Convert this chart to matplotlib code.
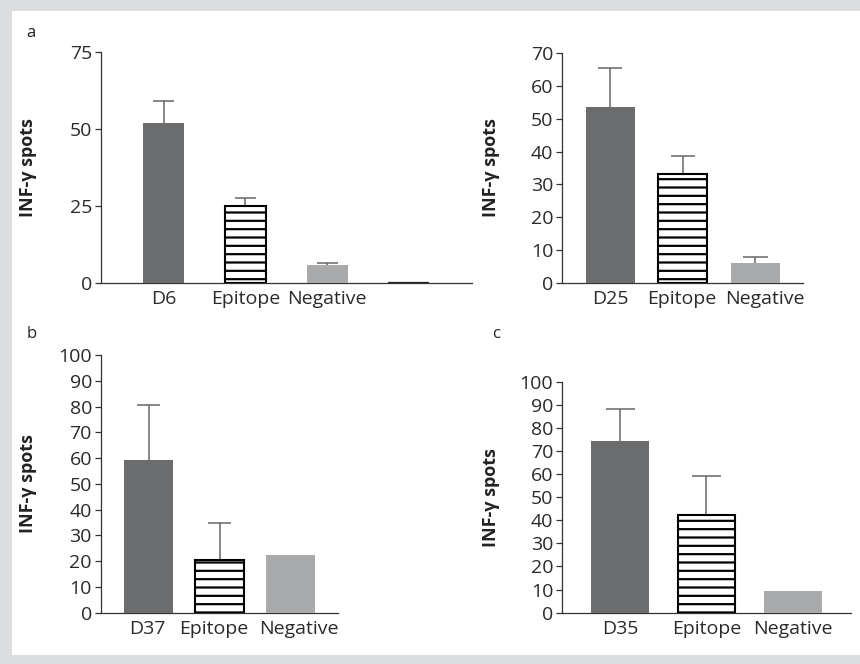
import matplotlib.pyplot as plt
import matplotlib.transforms as mtransforms
from matplotlib.patches import Rectangle

# panel a (top left)
a_labels = ["D6", "Epitope", "Negative", ""]
a_values = [52, 25, 5.8, 0]
a_errors = [7, 2.7, 0.5, 0]
a_ticks = [0, 25, 50, 75]

# panel a (top right)
a2_labels = ["D25", "Epitope", "Negative"]
a2_values = [53.6, 33.1, 6.1]
a2_errors = [12, 5.6, 1.8]
a2_ticks = [0, 10, 20, 30, 40, 50, 60, 70]

# panel b
b_labels = ["D37", "Epitope", "Negative"]
b_values = [59.4, 20.6, 22.4]
b_errors = [21.2, 14.3, 0]
b_ticks = list(range(0, 101, 10))

# panel c
c_labels = ["D35", "Epitope", "Negative"]
c_values = [74.2, 42.2, 9.4]
c_errors = [13.8, 16.8, 0]
c_ticks = list(range(0, 101, 10))

DARK = "#6b6c6e"
LIGHT = "#a9aaac"
AXIS = "#333333"

plt.rcParams["font.family"] = ["Open Sans", "DejaVu Sans"]
plt.rcParams["hatch.linewidth"] = 1.6

fig = plt.figure(figsize=(8.6, 6.64), dpi=100)
fig.patch.set_facecolor("#dcdddf")
fig.patches.append(Rectangle((12 / 860, 1 - 655 / 664), 1, 644 / 664,
                             transform=fig.transFigure, facecolor="white",
                             edgecolor="none", zorder=-10))


def panel(rect, labels, values, errors, ticks, width, xlim, cap, label_x,
          shifts=None):
    ax = fig.add_axes(rect)
    ax.set_facecolor("none")
    x = list(range(len(values)))
    colors = [DARK, "white", LIGHT, "#222222"][:len(values)]
    bars = ax.bar(x, values, width=width, color=colors, zorder=3)
    for i, b in enumerate(bars):
        if i == 1:
            b.set_edgecolor("black")
            b.set_linewidth(1.5)
            b.set_hatch("--")
        elif i == 3:
            b.set_edgecolor("#222222")
            b.set_linewidth(1.6)
        else:
            b.set_edgecolor("none")
    # upper-only error bars
    for xi, v, e in zip(x, values, errors):
        if e > 0:
            ax.vlines(xi, v, v + e, color="#666666", lw=1.1, zorder=2)
            ax.hlines(v + e, xi - cap, xi + cap, color="#666666", lw=1.1, zorder=2)
    ax.set_xlim(*xlim)
    ax.set_ylim(0, ticks[-1])
    ax.set_yticks(ticks)
    ax.set_xticks(x)
    ax.set_xticklabels(labels)
    for s in ["top", "right"]:
        ax.spines[s].set_visible(False)
    for s in ["left", "bottom"]:
        ax.spines[s].set_color(AXIS)
        ax.spines[s].set_linewidth(0.9)
    ax.tick_params(axis="y", length=4.5, width=0.9, color=AXIS,
                   labelsize=14, labelcolor="#2a2a2a", pad=2)
    ax.tick_params(axis="x", length=0, labelsize=14, labelcolor="#2a2a2a", pad=5)
    if shifts:
        for lab, dx in zip(ax.get_xticklabels(), shifts):
            off = mtransforms.ScaledTranslation(dx / 72, 0, fig.dpi_scale_trans)
            lab.set_transform(lab.get_transform() + off)
    ax.set_ylabel("INF-γ spots", fontsize=13, fontweight="bold", color="#222222")
    ax.yaxis.set_label_coords(label_x, 0.5)
    return ax


panel([0.1174, 0.5742, 0.431, 0.347], a_labels, a_values, a_errors, a_ticks,
      0.5, (-0.77, 3.77), 0.13, -0.173)
panel([0.6538, 0.5742, 0.2802, 0.3455], a2_labels, a2_values, a2_errors, a2_ticks,
      0.676, (-0.66, 2.66), 0.168, -0.2585, shifts=[0, -1, 7])
panel([0.1174, 0.0773, 0.2759, 0.3881], b_labels, b_values, b_errors, b_ticks,
      0.68, (-0.67, 2.67), 0.165, -0.2676, shifts=[-1, -4, 6])
panel([0.6538, 0.0773, 0.3353, 0.3479], c_labels, c_values, c_errors, c_ticks,
      0.67, (-0.67, 2.67), 0.168, -0.216)

fig.text(0.030, 0.944, "a", fontsize=12, color="#222222")
fig.text(0.0314, 0.491, "b", fontsize=12, color="#222222")
fig.text(0.572, 0.491, "c", fontsize=12, color="#222222")

fig.savefig("out.png", dpi=100, facecolor=fig.get_facecolor())
